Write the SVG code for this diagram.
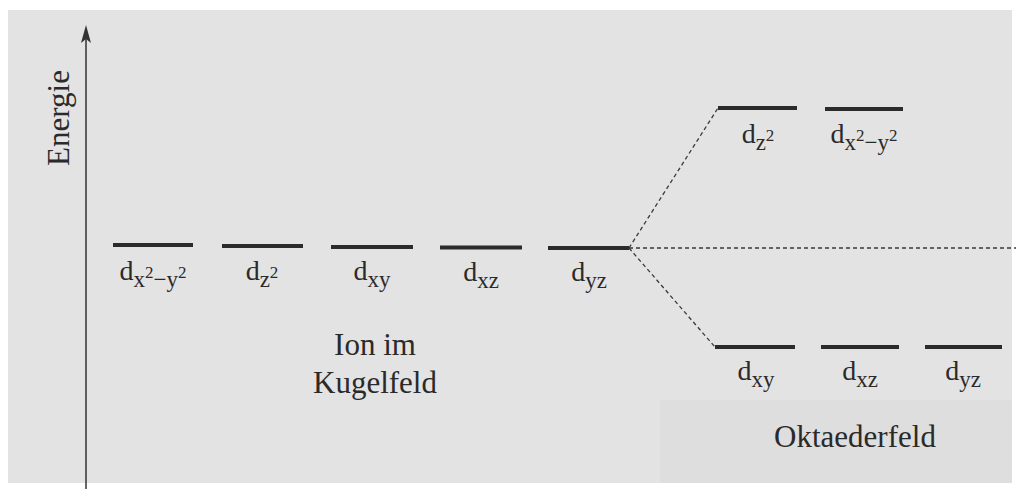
<svg xmlns="http://www.w3.org/2000/svg" width="1016" height="489" viewBox="0 0 1016 489">
<style>
text{font-family:"Liberation Serif","Times New Roman",serif;fill:#2a2a2a}
.big{font-size:31px}
.lab{font-size:28px}
.sub{font-size:23px}
.sup{font-size:17px}
.level{stroke:#2b2b2b;stroke-width:4;fill:none}
.dash{stroke:#3a3a3a;stroke-width:1.3;stroke-dasharray:4 3;fill:none}
.axis{stroke:#333;stroke-width:1.5;fill:none}
</style>
<rect width="1016" height="489" fill="#ffffff"/>
<rect x="8" y="10" width="1004" height="473" fill="#e3e3e3"/>
<rect x="660" y="400" width="352" height="83" fill="#dedede"/>
<g id="axis">
<line class="axis" x1="86" y1="489" x2="86" y2="36"/>
<path d="M86 25 L91 43 L86 39 L81 43 Z" fill="#333"/>
<text class="big" transform="translate(69,118) rotate(-90)" text-anchor="middle">Energie</text>
</g>
<g id="connectors">
<line class="dash" x1="629" y1="248" x2="1016" y2="248"/>
<line class="dash" x1="629" y1="248" x2="718" y2="108"/>
<line class="dash" x1="629" y1="248" x2="715" y2="347"/>
</g>
<g id="sphere-dx2y2">
<line class="level" x1="113" y1="245" x2="193" y2="245"/>
<text class="lab" x="153" y="280" text-anchor="middle">d<tspan class="sub" dy="7">x</tspan><tspan class="sup" dy="-9">2</tspan><tspan class="sub" dy="9">−y</tspan><tspan class="sup" dy="-9">2</tspan></text>
</g>
<g id="sphere-dz2">
<line class="level" x1="222" y1="246" x2="303" y2="246"/>
<text class="lab" x="262" y="280" text-anchor="middle">d<tspan class="sub" dy="7">z</tspan><tspan class="sup" dy="-9">2</tspan></text>
</g>
<g id="sphere-dxy">
<line class="level" x1="331" y1="247" x2="413" y2="247"/>
<text class="lab" x="372" y="280" text-anchor="middle">d<tspan class="sub" dy="7">xy</tspan></text>
</g>
<g id="sphere-dxz">
<line class="level" x1="440" y1="247.5" x2="522" y2="247.5"/>
<text class="lab" x="481" y="281" text-anchor="middle">d<tspan class="sub" dy="7">xz</tspan></text>
</g>
<g id="sphere-dyz">
<line class="level" x1="548" y1="248" x2="629" y2="248"/>
<text class="lab" x="589" y="281" text-anchor="middle">d<tspan class="sub" dy="7">yz</tspan></text>
</g>
<g id="label-kugelfeld">
<text class="big" x="375" y="355" text-anchor="middle">Ion im</text>
<text class="big" x="375" y="393" text-anchor="middle">Kugelfeld</text>
</g>
<g id="oct-dz2">
<line class="level" x1="718" y1="108" x2="797" y2="108"/>
<text class="lab" x="758" y="143" text-anchor="middle">d<tspan class="sub" dy="7">z</tspan><tspan class="sup" dy="-9">2</tspan></text>
</g>
<g id="oct-dx2y2">
<line class="level" x1="825" y1="109" x2="903" y2="109"/>
<text class="lab" x="864" y="143" text-anchor="middle">d<tspan class="sub" dy="7">x</tspan><tspan class="sup" dy="-9">2</tspan><tspan class="sub" dy="9">−y</tspan><tspan class="sup" dy="-9">2</tspan></text>
</g>
<g id="oct-dxy">
<line class="level" x1="715" y1="347" x2="795" y2="347"/>
<text class="lab" x="756" y="380" text-anchor="middle">d<tspan class="sub" dy="7">xy</tspan></text>
</g>
<g id="oct-dxz">
<line class="level" x1="821" y1="347" x2="899" y2="347"/>
<text class="lab" x="860" y="380" text-anchor="middle">d<tspan class="sub" dy="7">xz</tspan></text>
</g>
<g id="oct-dyz">
<line class="level" x1="925" y1="347" x2="1002" y2="347"/>
<text class="lab" x="963" y="380" text-anchor="middle">d<tspan class="sub" dy="7">yz</tspan></text>
</g>
<g id="label-oktaederfeld">
<text class="big" x="855" y="447" text-anchor="middle">Oktaederfeld</text>
</g>
</svg>
